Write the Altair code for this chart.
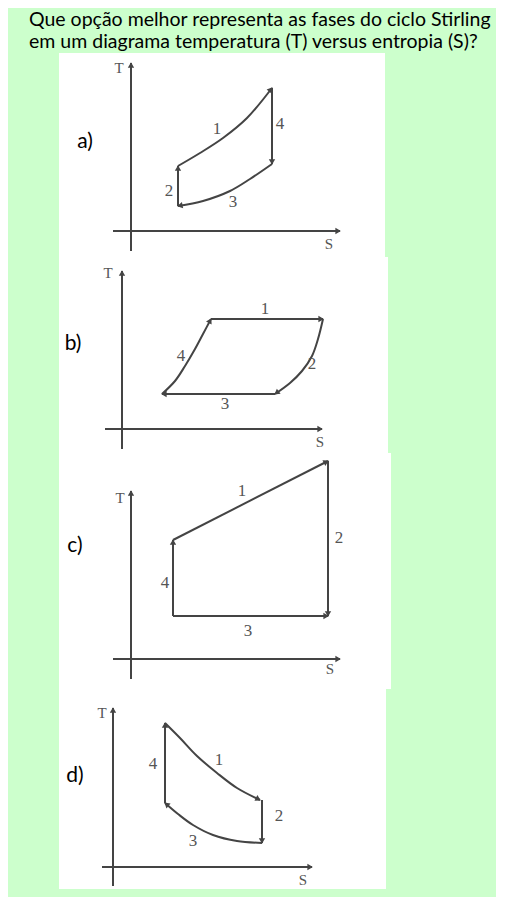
import math
import altair as alt
import pandas as pd

BG = "#ccffcc"
INK = "#444444"
UNIT = 10  # pixels per diagram unit (same in S and T)

TITLE_LINES = [
    "Que opção melhor representa as fases do ciclo Stirling",
    "em um diagrama temperatura (T) versus entropia (S)?",
]
OPTION_LABELS = ["a)", "b)", "c)", "d)"]

# ---------------- panel a ----------------
A_S_RANGE = [-7.2, 25.4]
A_T_RANGE = [-2.6, 17.8]
A_SEGMENTS = {
    "1": [(4.7, 6.5), (6.9, 7.8), (9.2, 9.3), (11.6, 11.3), (14.1, 14.3)],
    "4": [(14.1, 14.3), (14.1, 6.7)],
    "3": [(14.1, 6.7), (11.9, 5.2), (9.9, 4.0), (7.2, 3.0), (4.7, 2.5)],
    "2": [(4.7, 2.5), (4.7, 6.5)],
}
A_NUM_POS = {"1": (8.6, 10.2), "2": (3.8, 4.0), "3": (10.2, 2.9), "4": (14.9, 10.7)}
A_AXES = {"T": (-2.0, 16.8), "S": (-1.8, 20.9)}
A_LETTERS = {"T": (-1.2, 16.3), "S": (19.8, -1.3)}
A_OPTION_POS = (-4.6, 8.9)

# ---------------- panel b ----------------
B_S_RANGE = [-6.3, 26.6]
B_T_RANGE = [-2.4, 17.2]
B_SEGMENTS = {
    "1": [(8.9, 11.0), (20.1, 11.0)],
    "2": [(20.1, 11.0), (19.6, 9.0), (19.0, 7.3), (18.0, 5.8), (16.8, 4.6), (15.3, 3.5)],
    "3": [(15.3, 3.5), (4.0, 3.5)],
    "4": [(4.0, 3.5), (5.3, 4.8), (6.3, 6.3), (7.3, 8.0), (8.1, 9.5), (8.9, 11.0)],
}
B_NUM_POS = {"1": (14.3, 12.0), "2": (19.0, 6.5), "3": (10.3, 2.5), "4": (5.9, 7.3)}
B_AXES = {"T": (-2.0, 15.8), "S": (-1.7, 20.0)}
B_LETTERS = {"T": (-1.4, 15.6), "S": (19.8, -1.3)}
B_OPTION_POS = (-4.9, 8.5)

# ---------------- panel c ----------------
C_S_RANGE = [-7.2, 26.0]
C_T_RANGE = [-3.0, 20.6]
C_SEGMENTS = {
    "1": [(4.2, 11.9), (19.7, 19.8)],
    "2": [(19.7, 19.8), (19.7, 4.3)],
    "3": [(4.2, 4.3), (19.7, 4.3)],
    "4": [(4.2, 4.3), (4.2, 11.9)],
}
C_NUM_POS = {"1": (11.1, 16.8), "2": (20.8, 12.1), "3": (11.7, 2.8), "4": (3.4, 7.6)}
C_AXES = {"T": (-2.0, 16.8), "S": (-1.8, 20.9)}
C_LETTERS = {"T": (-1.1, 16.1), "S": (19.9, -1.0)}
C_OPTION_POS = (-5.6, 11.3)

# ---------------- panel d ----------------
D_S_RANGE = [-5.4, 27.3]
D_T_RANGE = [-2.2, 17.8]
D_SEGMENTS = {
    "1": [(5.2, 14.4), (6.7, 12.9), (8.4, 11.1), (10.4, 9.4), (12.4, 7.9), (14.7, 6.7)],
    "2": [(14.9, 6.7), (14.9, 2.4)],
    "3": [(14.9, 2.4), (12.4, 2.6), (10.0, 3.2), (8.0, 4.2), (6.5, 5.3), (5.2, 6.4)],
    "4": [(5.2, 6.4), (5.2, 14.4)],
}
D_NUM_POS = {"1": (10.6, 10.7), "2": (16.6, 5.1), "3": (8.0, 2.6), "4": (4.0, 10.3)}
D_AXES = {"T": (-1.9, 15.9), "S": (-1.1, 19.9)}
D_LETTERS = {"T": (-1.1, 15.4), "S": (19.0, -1.3)}
D_OPTION_POS = (-3.8, 9.1)


def arrow_at_end(pts, back=0.28):
    (s0, t0), (s1, t1) = pts[-2], pts[-1]
    ds, dt = s1 - s0, t1 - t0
    n = math.hypot(ds, dt)
    ds, dt = ds / n, dt / n
    ang = math.degrees(math.atan2(ds, dt)) % 360
    return dict(S=s1 - ds * back, T=t1 - dt * back, angle=ang)


def panel(label, s_range, t_range, segments, num_pos, axes, letters, opt_pos):
    xs = alt.Scale(domain=s_range, nice=False, zero=False)
    ys = alt.Scale(domain=t_range, nice=False, zero=False)
    X = alt.X("S:Q", scale=xs, axis=None)
    Y = alt.Y("T:Q", scale=ys, axis=None)

    t0, t1 = axes["T"]
    s0, s1 = axes["S"]
    axis_segs = {"axT": [(0, t0), (0, t1)], "axS": [(s0, 0), (s1, 0)]}

    rows, arrows = [], []
    for name, pts in list(segments.items()) + list(axis_segs.items()):
        for i, (s, t) in enumerate(pts):
            rows.append(dict(seg=name, i=i, S=s, T=t))
        arrows.append(arrow_at_end(pts))
    lines_df = pd.DataFrame(rows)
    arrows_df = pd.DataFrame(arrows)
    nums_df = pd.DataFrame([dict(txt=k, S=v[0], T=v[1]) for k, v in num_pos.items()])
    let_df = pd.DataFrame([dict(txt=k, S=v[0], T=v[1]) for k, v in letters.items()])
    opt_df = pd.DataFrame([dict(txt=label, S=opt_pos[0], T=opt_pos[1])])

    lines = alt.Chart(lines_df).mark_line(
        interpolate="catmull-rom", color=INK, strokeWidth=2
    ).encode(x=X, y=Y, detail="seg:N", order="i:Q")
    heads = alt.Chart(arrows_df).mark_point(
        shape="triangle", filled=True, size=40, color=INK, opacity=1
    ).encode(x=X, y=Y, angle=alt.Angle("angle:Q", scale=None))
    nums = alt.Chart(nums_df).mark_text(
        font="Liberation Serif", fontSize=17, color="#555555"
    ).encode(x=X, y=Y, text="txt:N")
    lets = alt.Chart(let_df).mark_text(
        font="Liberation Serif", fontSize=15, color="#555555"
    ).encode(x=X, y=Y, text="txt:N")
    opt = alt.Chart(opt_df).mark_text(
        font="Lato", fontSize=21, color="black"
    ).encode(x=X, y=Y, text="txt:N")

    w = round(UNIT * (s_range[1] - s_range[0]))
    h = round(UNIT * (t_range[1] - t_range[0]))
    return alt.layer(lines, heads, nums, lets, opt).properties(width=w, height=h)


pa = panel(OPTION_LABELS[0], A_S_RANGE, A_T_RANGE, A_SEGMENTS, A_NUM_POS, A_AXES, A_LETTERS, A_OPTION_POS)
pb = panel(OPTION_LABELS[1], B_S_RANGE, B_T_RANGE, B_SEGMENTS, B_NUM_POS, B_AXES, B_LETTERS, B_OPTION_POS)
pc = panel(OPTION_LABELS[2], C_S_RANGE, C_T_RANGE, C_SEGMENTS, C_NUM_POS, C_AXES, C_LETTERS, C_OPTION_POS)
pd_ = panel(OPTION_LABELS[3], D_S_RANGE, D_T_RANGE, D_SEGMENTS, D_NUM_POS, D_AXES, D_LETTERS, D_OPTION_POS)

chart = alt.vconcat(pa, pb, pc, pd_, spacing=0).properties(
    title=alt.TitleParams(
        TITLE_LINES, anchor="start", font="Lato", fontSize=19.5,
        fontWeight="normal", color="black", lineHeight=22, dx=-30, offset=1,
    ),
    background=BG,
    padding={"left": 21, "top": 1, "right": 5, "bottom": 8},
).configure_view(stroke=None, fill="white")

chart.save("out.html", embed_options={"renderer": "svg", "actions": False})
